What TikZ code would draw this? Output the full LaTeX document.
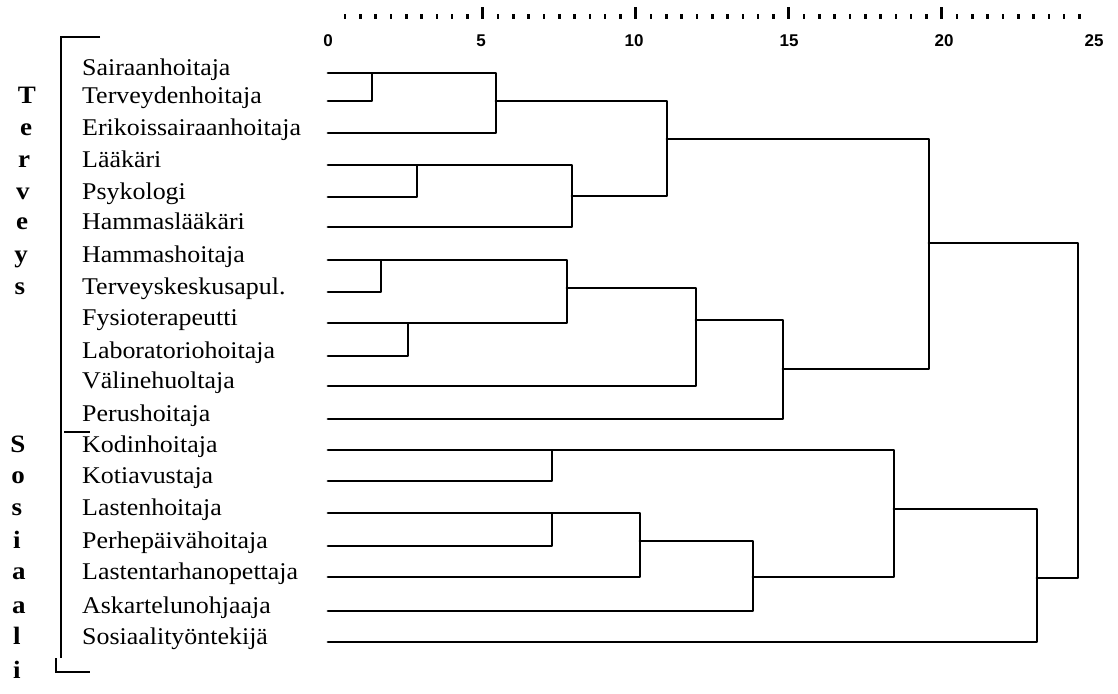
\documentclass[tikz,border=0pt]{standalone}
\usepackage{fontspec}
\setmainfont{Liberation Serif}[FakeStretch=1.08]
\newfontfamily\rulerfont{Liberation Sans}
\begin{document}
\begin{tikzpicture}[x=1pt,y=-1pt,
  link/.style={line width=2.8pt, line join=round, line cap=round},
  brk/.style={line width=2.3pt},
  leaf/.style={anchor=mid west, inner sep=0pt, font=\fontsize{24}{24}\selectfont},
  grp/.style={anchor=mid, inner sep=0pt, font=\fontsize{25}{25}\selectfont\bfseries},
  num/.style={anchor=center, inner sep=0pt, font=\rulerfont\bfseries\fontsize{17}{18}\selectfont}]
\useasboundingbox (0,0) rectangle (1118,693);

% ruler
\foreach \k in {0,...,48}{
  \ifnum\k=9 \else\ifnum\k=19 \else\ifnum\k=29 \else\ifnum\k=39 \else
  \fill ({345+15.3*\k-1.3},14.5) rectangle ++(2.6,5);
  \fi\fi\fi\fi
}
\foreach \k in {9,19,29,39}{
  \fill ({345+15.3*\k-1.4},7) rectangle ++(2.8,12.5);
}
\node[num] (n0)  at (328,41)  {0};
\node[num] (n5)  at (481,41)  {5};
\node[num] (n10) at (634,41)  {10};
\node[num] (n15) at (789,41)  {15};
\node[num] (n20) at (944,41)  {20};
\node[num] (n25) at (1094,41) {25};

% bracket
\draw[brk] (100,37) -| (61,658);
\draw[brk] (56,658) |- (90,672);
\draw[line width=1.6pt] (64,432) -- (90,432);

% group letters
\node[grp] (gT1) at (27,101) {T};
\node[grp] (gT2) at (26,133) {e};
\node[grp] (gT3) at (24,165) {r};
\node[grp] (gT4) at (23,197) {v};
\node[grp] (gT5) at (22,227) {e};
\node[grp] (gT6) at (21,260) {y};
\node[grp] (gT7) at (20,292) {s};
\node[grp] (gS1) at (18,450) {S};
\node[grp] (gS2) at (18,481) {o};
\node[grp] (gS3) at (17,513) {s};
\node[grp] (gS4) at (17,546) {i};
\node[grp] (gS5) at (19,577) {a};
\node[grp] (gS6) at (19,611) {a};
\node[grp] (gS7) at (17,642) {l};
\node[grp] (gS8) at (17,676) {i};

% leaf labels and leaf starts
\foreach \i/\y/\t in {
  1/73/Sairaanhoitaja,
  2/101/Terveydenhoitaja,
  3/133/Erikoissairaanhoitaja,
  4/165/Lääkäri,
  5/197/Psykologi,
  6/227/Hammaslääkäri,
  7/260/Hammashoitaja,
  8/292/Terveyskeskusapul.,
  9/323/Fysioterapeutti,
  10/356/Laboratoriohoitaja,
  11/386/Välinehuoltaja,
  12/419/Perushoitaja,
  13/450/Kodinhoitaja,
  14/481/Kotiavustaja,
  15/513/Lastenhoitaja,
  16/546/Perhepäivähoitaja,
  17/577/Lastentarhanopettaja,
  18/611/Askartelunohjaaja,
  19/642/Sosiaalityöntekijä}{
  \node[leaf] (l\i) at (82,\y) {\t};
  \coordinate (s\i) at (328,\y);
}

% merge points (x = merge level, y = outgoing line)
\coordinate (A) at (372,73);
\coordinate (B) at (496,101);
\coordinate (C) at (417,165);
\coordinate (D) at (572,196);
\coordinate (E) at (667,139);
\coordinate (F) at (381,260);
\coordinate (G) at (408,323);
\coordinate (H) at (567,288);
\coordinate (I) at (696,320);
\coordinate (J) at (783,369);
\coordinate (T) at (929,243);
\coordinate (K) at (552,450);
\coordinate (L) at (552,513);
\coordinate (M) at (640,541);
\coordinate (N) at (753,577);
\coordinate (O) at (894,509);
\coordinate (P) at (1037,578);
\coordinate (R) at (1078,400);

\draw[link] (s1) -- (s1 -| A) -- (s2 -| A) -- (s2);
\draw[link] (A) -- (A -| B) -- (s3 -| B) -- (s3);
\draw[link] (s4) -- (s4 -| C) -- (s5 -| C) -- (s5);
\draw[link] (C) -- (C -| D) -- (s6 -| D) -- (s6);
\draw[link] (B) -- (B -| E) -- (D -| E) -- (D);
\draw[link] (s7) -- (s7 -| F) -- (s8 -| F) -- (s8);
\draw[link] (s9) -- (s9 -| G) -- (s10 -| G) -- (s10);
\draw[link] (F) -- (F -| H) -- (G -| H) -- (G);
\draw[link] (H) -- (H -| I) -- (s11 -| I) -- (s11);
\draw[link] (I) -- (I -| J) -- (s12 -| J) -- (s12);
\draw[link] (E) -- (E -| T) -- (J -| T) -- (J);
\draw[link] (s13) -- (s13 -| K) -- (s14 -| K) -- (s14);
\draw[link] (s15) -- (s15 -| L) -- (s16 -| L) -- (s16);
\draw[link] (L) -- (L -| M) -- (s17 -| M) -- (s17);
\draw[link] (M) -- (M -| N) -- (s18 -| N) -- (s18);
\draw[link] (K) -- (K -| O) -- (N -| O) -- (N);
\draw[link] (O) -- (O -| P) -- (s19 -| P) -- (s19);
\draw[link] (T) -- (T -| R) -- (P -| R) -- (P);
\end{tikzpicture}
\end{document}
